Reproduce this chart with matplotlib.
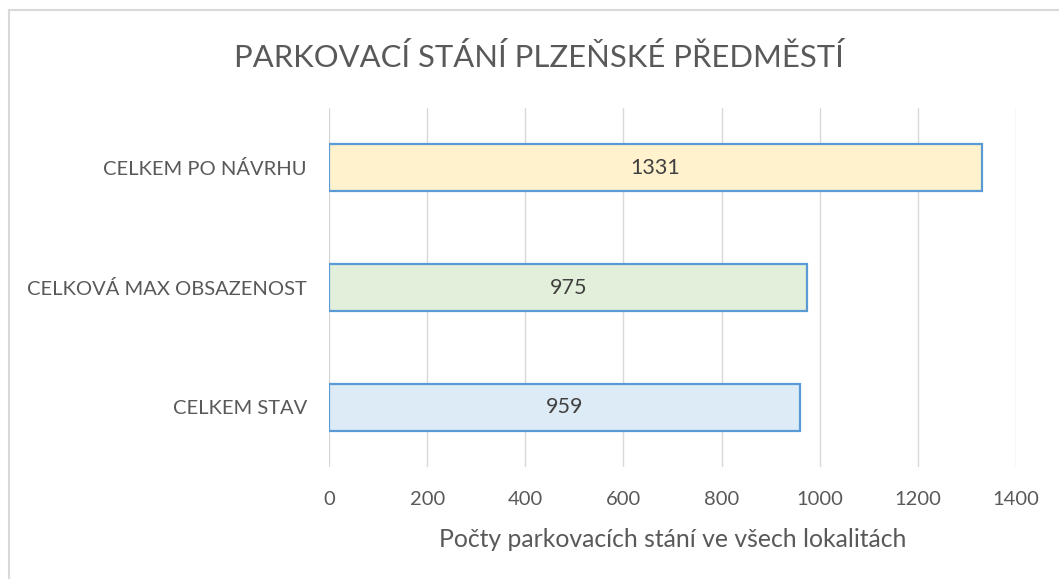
import matplotlib.pyplot as plt
from matplotlib.lines import Line2D

plt.rcParams['font.family'] = ['Lato', 'DejaVu Sans']

categories = ["CELKEM STAV", "CELKOVÁ MAX OBSAZENOST", "CELKEM PO NÁVRHU"]
values = [959, 975, 1331]
fills = ["#DDEBF7", "#E2EFDA", "#FFF2CC"]
ticks = [0, 200, 400, 600, 800, 1000, 1200, 1400]

fig = plt.figure(figsize=(10.59, 5.79), dpi=100)
ax = fig.add_axes([0.3107, 0.1934, 0.6487, 0.6201])

bars = ax.barh(range(len(categories)), values, height=0.39, color=fills,
               edgecolor="#5B9BD5", linewidth=1.6, zorder=3)
for b, v in zip(bars, values):
    ax.text(v / 2, b.get_y() + b.get_height() / 2, str(v), ha="center", va="center",
            fontsize=15.5, color="#404040", zorder=4)

ax.set_yticks(range(len(categories)))
ax.set_yticklabels(categories, fontsize=14.5, color="#595959")
ax.set_xticks(ticks)
ax.set_xticklabels([str(t) for t in ticks], fontsize=14.5, color="#595959")
ax.set_xlim(0, 1400)
ax.set_ylim(-0.5, 2.5)
ax.tick_params(length=0)
ax.tick_params(axis="x", pad=17)
ax.tick_params(axis="y", pad=16)
ax.grid(axis="x", color="#D9D9D9", linewidth=1, zorder=0)
ax.set_axisbelow(True)
for s in ax.spines.values():
    s.set_visible(False)
ax.set_xlabel("Počty parkovacích stání ve všech lokalitách", fontsize=17.8,
              color="#595959", labelpad=15)

fig.text(0.5085, 0.9, "PARKOVACÍ STÁNÍ PLZEŇSKÉ PŘEDMĚSTÍ", ha="center", va="center",
         fontsize=22.3, color="#595959")

# chart frame (top and left edges visible)
fig.add_artist(Line2D([0.0085, 0.0085], [0, 0.9828], color="#D9D9D9", linewidth=1.5,
                      transform=fig.transFigure))
fig.add_artist(Line2D([0.0085, 1], [0.9828, 0.9828], color="#D9D9D9", linewidth=1.5,
                      transform=fig.transFigure))

fig.savefig("out.png", dpi=100)
